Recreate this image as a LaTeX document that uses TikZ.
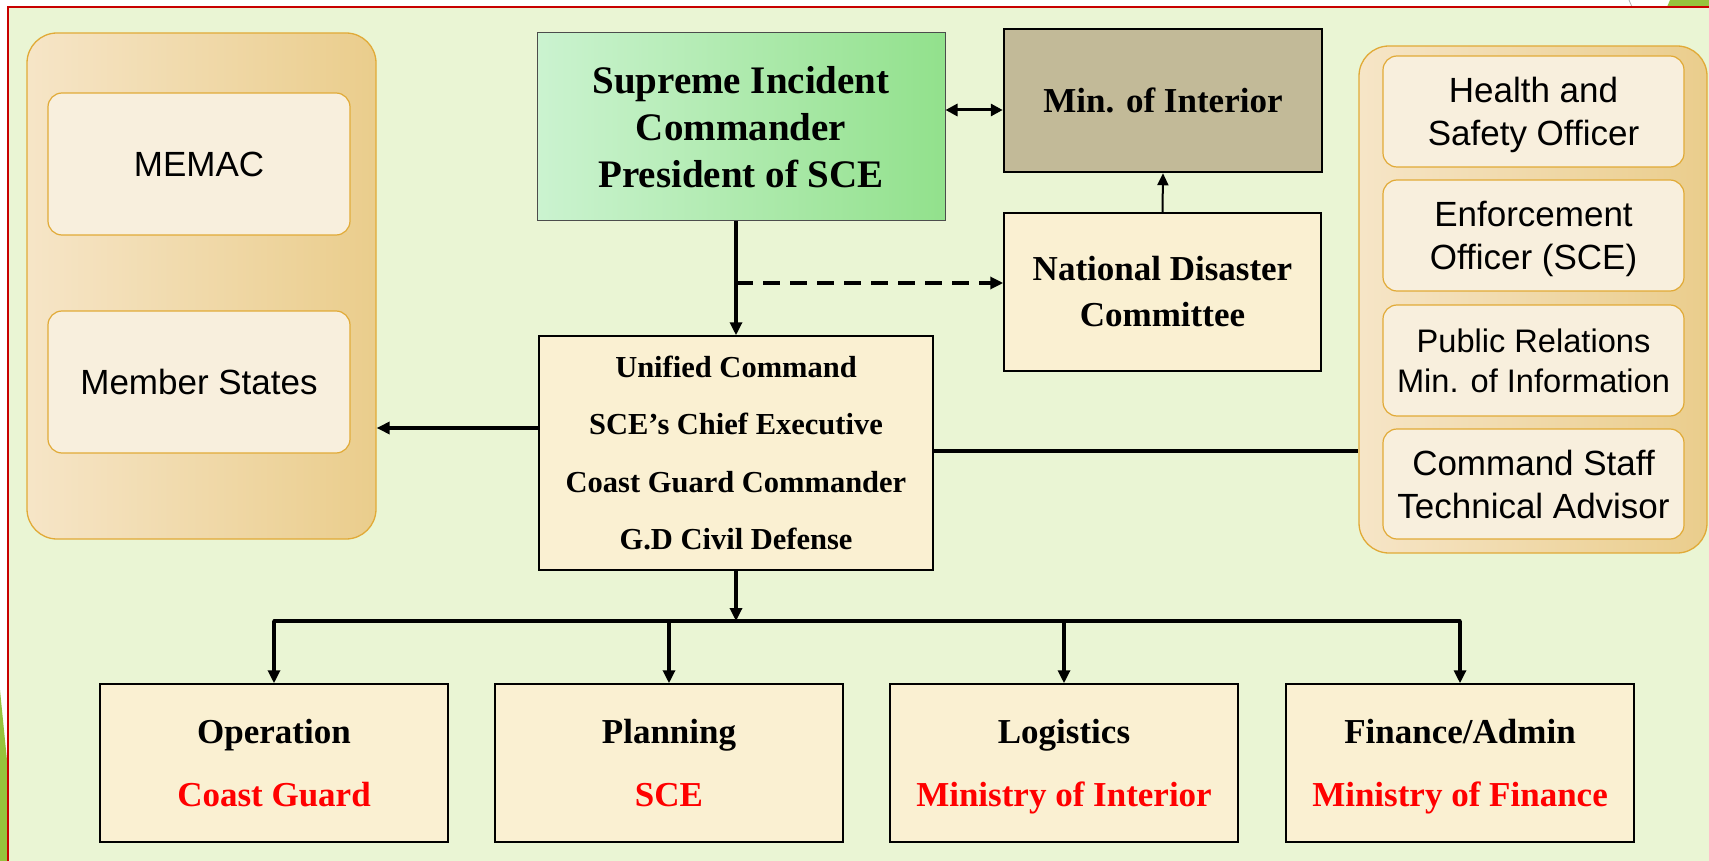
\documentclass[tikz,border=0pt]{standalone}
\usepackage{fontspec}
\setmainfont{Liberation Serif}
\setsansfont{Liberation Sans}
\usetikzlibrary{arrows.meta}
\definecolor{bggreen}{RGB}{234,245,212}
\definecolor{slideframe}{RGB}{200,0,0}
\definecolor{decogreen}{RGB}{150,195,60}
\definecolor{supL}{RGB}{203,243,208}
\definecolor{supR}{RGB}{146,225,140}
\definecolor{moifill}{RGB}{194,186,152}
\definecolor{boxfill}{RGB}{250,240,210}
\definecolor{panL}{RGB}{246,229,199}
\definecolor{panR}{RGB}{234,205,140}
\definecolor{panborder}{RGB}{225,170,55}
\definecolor{innerfill}{RGB}{248,239,221}
\begin{document}
\begin{tikzpicture}[x=1pt,y=-1pt,
  plainbox/.style={draw=black, line width=1.5pt, fill=boxfill, inner sep=0pt, align=center, font=\bfseries},
  panel/.style={draw=panborder, line width=1.3pt, rounded corners=30pt, left color=panL, right color=panR, inner sep=0pt},
  innerbox/.style={draw=panborder, line width=1.2pt, rounded corners=14pt, fill=innerfill, inner sep=0pt, align=center, font=\sffamily\fontsize{35}{43}\selectfont},
  arr/.style={draw=black, line width=3.2pt, -{Triangle[length=13pt,width=12pt]}},
  dasharr/.style={draw=black, line width=3.2pt, dash pattern=on 17pt off 10pt, -{Triangle[length=13pt,width=12pt]}},
  dblarr/.style={draw=black, line width=3pt, {Triangle[length=12pt,width=12pt]}-{Triangle[length=12pt,width=12pt]}},
  thinarr/.style={draw=black, line width=2pt, -{Triangle[length=12pt,width=11pt]}},
  conn/.style={draw=black, line width=3.2pt, line cap=round}
]
\useasboundingbox (0,0) rectangle (1709,861);
\fill[white] (0,0) rectangle (1709,861);
\begin{scope}
\clip (0,0) rectangle (1709,861);
\fill[decogreen] (0,690) -- (7,760) -- (7,861) -- (0,861) -- cycle;
\fill[decogreen] (1670,0) -- (1709,0) -- (1709,7) -- (1667,7) -- cycle;
\draw[gray!60, line width=0.8pt] (1629,0) -- (1632,7);
\draw[slideframe, line width=2pt, fill=bggreen] (8,7) rectangle (1740,890);
\end{scope}

% left panel
\node[panel, minimum width=349pt, minimum height=506pt] (lp) at (201.5,286) {};
\node[innerbox, minimum width=302pt, minimum height=142pt] (memac) at (199,164) {MEMAC};
\node[innerbox, minimum width=302pt, minimum height=142pt] (ms) at (199,382) {Member States};

% right panel
\node[panel, minimum width=348pt, minimum height=507pt] (rp) at (1533,299.5) {};
\node[innerbox, minimum width=301pt, minimum height=111pt] (hs) at (1533.5,111.5) {Health and\\\smash{Safety Officer}};
\node[innerbox, minimum width=301pt, minimum height=111pt] (eo) at (1533.5,235.5) {Enforcement\\\smash{Officer (SCE)}};
\node[innerbox, minimum width=301pt, minimum height=111pt, font=\sffamily\fontsize{32.6}{40}\selectfont] (pr) at (1533.5,360.5) {Public Relations\\Min. of Information};
\node[innerbox, minimum width=301pt, minimum height=110pt] (cs) at (1533.5,484) {Command Staff\\Technical Advisor};

% top boxes
\node[draw=black!70, line width=1pt, left color=supL, right color=supR, inner sep=0pt, align=center,
      font=\bfseries\fontsize{39}{47}\selectfont, minimum width=408pt, minimum height=188pt] (sup) at (741,127)
      {Supreme Incident\\Commander\\President of SCE};
\node[draw=black, line width=2.5pt, fill=moifill, inner sep=0pt, font=\bfseries\fontsize{35}{42}\selectfont,
      minimum width=318pt, minimum height=143pt] (moi) at (1163,100.5) {Min. of Interior};
\node[plainbox, font=\bfseries\fontsize{35}{46}\selectfont, minimum width=317pt, minimum height=158pt] (ndc) at (1162.5,292)
      {National Disaster\\Committee};
\node[plainbox, font=\bfseries\fontsize{30.5}{57.5}\selectfont, minimum width=394pt, minimum height=234pt] (uc) at (736,453)
      {Unified Command\\SCE’s Chief Executive\\Coast Guard Commander\\G.D Civil Defense};

% bottom boxes
\tikzset{botbox/.style={plainbox, font=\bfseries\fontsize{35}{63}\selectfont, minimum width=348pt, minimum height=158pt}}
\node[botbox] (op) at (274,763) {Operation\\\textcolor{red}{Coast Guard}};
\node[botbox] (pl) at (669,763) {Planning\\\textcolor{red}{SCE}};
\node[botbox] (lg) at (1064,763) {Logistics\\\smash{\textcolor{red}{Ministry of Interior}}};
\node[botbox] (fin) at (1460,763) {Finance/Admin\\\smash{\textcolor{red}{Ministry of Finance}}};

% connectors
\coordinate (dj) at (736,283);
\coordinate (da) at (0,110);
\coordinate (ul) at (0,428);
\coordinate (ur) at (0,451);
\coordinate (busc) at (736,621);

\draw[arr] (sup.south -| uc.north) -- (uc.north);
\draw[dasharr] (dj) -- (ndc.west |- dj);
\draw[dblarr] (sup.east |- da) -- (moi.west |- da);
\draw[thinarr] (ndc.north) -- (moi.south);
\draw[arr] (uc.west |- ul) -- (lp.east |- ul);
\draw[conn, line cap=butt] (uc.east |- ur) -- (rp.west |- ur);
\draw[arr] (uc.south) -- (busc);
\draw[conn] (op.north |- busc) -- (fin.north |- busc);
\foreach \n in {op,pl,lg,fin} \draw[arr] (\n.north |- busc) -- (\n.north);
\end{tikzpicture}
\end{document}
